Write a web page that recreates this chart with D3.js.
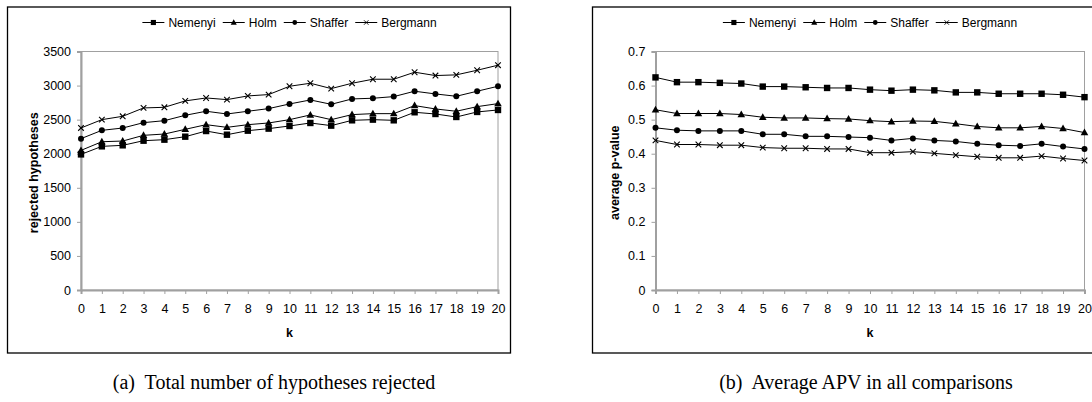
<!DOCTYPE html>
<html>
<head>
<meta charset="utf-8">
<script src="https://cdn.jsdelivr.net/npm/d3@7"></script>
<style>
  body { margin: 0; background: #fff; }
  svg { display: block; }
  text { font-family: "Liberation Sans", Arial, sans-serif; fill: #000; }
</style>
</head>
<body>
<svg id="fig" width="1092" height="402"></svg>
<script>
var kValues = d3.range(0, 21);
var seriesNames = ["Nemenyi", "Holm", "Shaffer", "Bergmann"];

// (a) rejected hypotheses
var rejNemenyi  = [1990, 2108, 2123, 2191, 2206, 2250, 2333, 2279, 2338, 2368, 2407, 2451, 2412, 2490, 2500, 2490, 2608, 2583, 2539, 2613, 2642];
var rejHolm     = [2049, 2176, 2186, 2270, 2289, 2358, 2426, 2387, 2426, 2451, 2500, 2569, 2500, 2574, 2588, 2588, 2706, 2657, 2623, 2691, 2735];
var rejShaffer  = [2221, 2343, 2377, 2456, 2485, 2564, 2623, 2583, 2623, 2662, 2730, 2789, 2725, 2804, 2814, 2838, 2917, 2877, 2843, 2917, 2990];
var rejBergmann = [2378, 2500, 2549, 2672, 2681, 2775, 2818, 2794, 2848, 2868, 2990, 3034, 2956, 3034, 3093, 3093, 3196, 3147, 3157, 3225, 3299];
var rejTicks = [0, 500, 1000, 1500, 2000, 2500, 3000, 3500];

// (b) average p-value
var apvNemenyi  = [0.624, 0.610, 0.610, 0.608, 0.606, 0.597, 0.597, 0.595, 0.593, 0.593, 0.588, 0.585, 0.588, 0.586, 0.580, 0.580, 0.576, 0.576, 0.576, 0.573, 0.566];
var apvHolm     = [0.529, 0.518, 0.518, 0.518, 0.515, 0.507, 0.505, 0.505, 0.503, 0.502, 0.497, 0.494, 0.496, 0.495, 0.488, 0.480, 0.476, 0.476, 0.480, 0.474, 0.462];
var apvShaffer  = [0.476, 0.469, 0.467, 0.467, 0.467, 0.457, 0.457, 0.451, 0.451, 0.449, 0.447, 0.439, 0.445, 0.439, 0.436, 0.429, 0.425, 0.423, 0.429, 0.421, 0.414];
var apvBergmann = [0.439, 0.427, 0.427, 0.425, 0.425, 0.418, 0.416, 0.416, 0.414, 0.414, 0.403, 0.403, 0.406, 0.401, 0.396, 0.391, 0.388, 0.388, 0.393, 0.386, 0.380];
var apvTicks = [0, 0.1, 0.2, 0.3, 0.4, 0.5, 0.6, 0.7];

var svg = d3.select("#fig");
var gray = "#a0a0a0";

// marker shapes
function marker(g, name) {
  if (name == "Nemenyi") {
    g.append("rect").attr("x", -3.2).attr("y", -3.2).attr("width", 6.4).attr("height", 6.4).attr("fill", "#000");
  } else if (name == "Holm") {
    g.append("path").attr("d", "M0,-4L3.8,2.7L-3.8,2.7Z").attr("fill", "#000");
  } else if (name == "Shaffer") {
    g.append("circle").attr("r", 3).attr("fill", "#000");
  } else {
    g.append("path").attr("d", "M-2.8,-2.8L2.8,2.8M-2.8,2.8L2.8,-2.8").attr("stroke", "#000").attr("stroke-width", 1.1);
  }
}

function drawChart(cfg) {
  var g = svg.append("g");

  // outer frame
  g.append("rect")
    .attr("x", cfg.frame[0]).attr("y", cfg.frame[1])
    .attr("width", cfg.frame[2]).attr("height", cfg.frame[3])
    .attr("fill", "none").attr("stroke", "#000").attr("stroke-width", 1.3);

  var x = d3.scaleLinear().domain([0, 20]).range([cfg.left, cfg.right]);
  var y = d3.scaleLinear().domain(cfg.yDomain).range([cfg.bottom, cfg.top]);

  // plot area border (thin)
  g.append("rect")
    .attr("x", cfg.left).attr("y", cfg.top)
    .attr("width", cfg.right - cfg.left).attr("height", cfg.bottom - cfg.top)
    .attr("fill", "none").attr("stroke", gray).attr("stroke-width", 1);

  // y axis
  var yAxis = d3.axisLeft(y).tickValues(cfg.yTicks).tickSize(4).tickPadding(6)
    .tickFormat(cfg.yFormat);
  var ya = g.append("g").attr("transform", "translate(" + cfg.left + ",0)").call(yAxis);
  ya.select(".domain").attr("stroke", gray).attr("stroke-width", 2);
  ya.selectAll(".tick line").attr("stroke", gray).attr("stroke-width", 1);
  ya.selectAll(".tick text").attr("font-size", 12.5).attr("font-family", "Liberation Sans, Arial, sans-serif").attr("fill", "#000");

  // x axis
  var xAxis = d3.axisBottom(x).tickValues(kValues).tickSize(4).tickPadding(10);
  var xa = g.append("g").attr("transform", "translate(0," + cfg.bottom + ")").call(xAxis);
  xa.select(".domain").attr("stroke", gray).attr("stroke-width", 2);
  xa.selectAll(".tick line").attr("stroke", gray).attr("stroke-width", 1);
  xa.selectAll(".tick text").attr("font-size", 12.5).attr("font-family", "Liberation Sans, Arial, sans-serif").attr("fill", "#000");

  // axis titles
  g.append("text")
    .attr("transform", "translate(" + cfg.yTitleX + "," + ((cfg.top + cfg.bottom) / 2 + 2) + ") rotate(-90)")
    .attr("text-anchor", "middle").attr("font-size", 12.5).attr("font-weight", "bold")
    .text(cfg.yTitle);
  g.append("text")
    .attr("x", (cfg.left + cfg.right) / 2).attr("y", 337)
    .attr("text-anchor", "middle").attr("font-size", 12.5).attr("font-weight", "bold")
    .text("k");

  // lines and markers
  var line = d3.line().x(function(d, i) { return x(kValues[i]); }).y(function(d) { return y(d); });
  cfg.series.forEach(function(vals, s) {
    g.append("path").datum(vals).attr("d", line)
      .attr("fill", "none").attr("stroke", "#000").attr("stroke-width", 1);
    g.selectAll(null).data(vals).enter().append("g")
      .attr("transform", function(d, i) { return "translate(" + x(kValues[i]) + "," + y(d) + ")"; })
      .each(function() { marker(d3.select(this), seriesNames[s]); });
  });

  // legend
  var leg = g.append("g");
  var pos = 0;
  seriesNames.forEach(function(name) {
    var it = leg.append("g").attr("transform", "translate(" + pos + ",0)");
    it.append("line").attr("x1", 0).attr("x2", 22).attr("y1", 0).attr("y2", 0)
      .attr("stroke", "#000").attr("stroke-width", 1);
    marker(it.append("g").attr("transform", "translate(11,0)").attr("class", "lm"), name);
    var t = it.append("text").attr("x", 26).attr("y", 4.3).attr("font-size", 12).text(name);
    pos += 26 + t.node().getComputedTextLength() + 7;
  });
  pos -= 7;
  leg.selectAll(".lm").attr("transform", "translate(11,0) scale(0.8)");
  leg.attr("transform", "translate(" + ((cfg.left + cfg.right) / 2 - pos / 2) + ",22.5)");

  // caption
  svg.append("text")
    .attr("x", cfg.capX).attr("y", 389)
    .attr("text-anchor", "middle")
    .style("font-family", "Liberation Serif, Times New Roman, serif")
    .attr("font-size", 20)
    .attr("xml:space", "preserve")
    .text(cfg.caption);
}

drawChart({
  frame: [7.5, 7, 503, 346],
  left: 81, right: 498, top: 51.5, bottom: 290,
  yDomain: [0, 3500], yTicks: rejTicks, yFormat: d3.format("d"),
  yTitle: "rejected hypotheses", yTitleX: 37.5,
  series: [rejNemenyi, rejHolm, rejShaffer, rejBergmann],
  caption: "(a)  Total number of hypotheses rejected", capX: 274
});

drawChart({
  frame: [592.5, 7, 560, 346],
  left: 655.5, right: 1084.5, top: 51.5, bottom: 290,
  yDomain: [0, 0.7], yTicks: apvTicks, yFormat: function(d) { return d === 0 ? "0" : d3.format(".1f")(d); },
  yTitle: "average p-value", yTitleX: 618.5,
  series: [apvNemenyi, apvHolm, apvShaffer, apvBergmann],
  caption: "(b)  Average APV in all comparisons", capX: 866
});
</script>
</body>
</html>
